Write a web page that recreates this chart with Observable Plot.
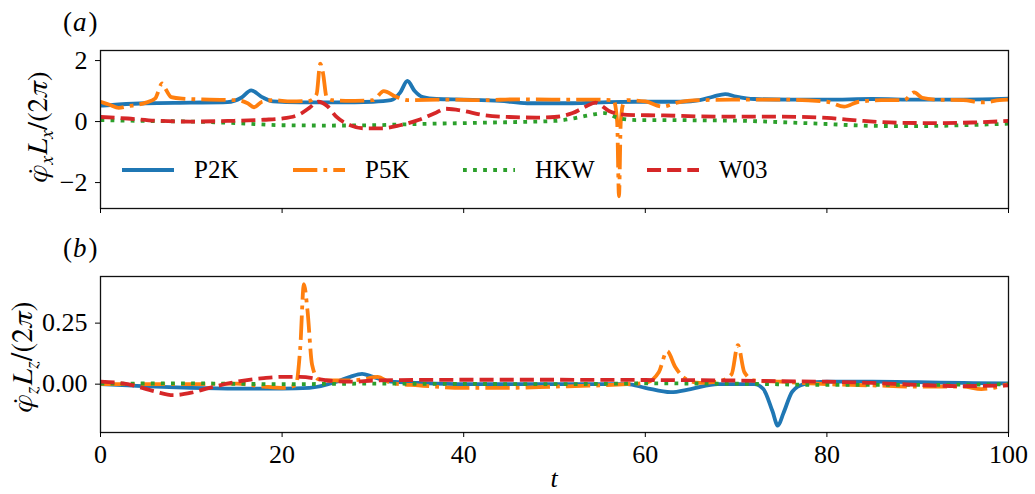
<!DOCTYPE html>
<html><head><meta charset="utf-8">
<script src="https://cdn.jsdelivr.net/npm/d3@7"></script>
<script src="https://cdn.jsdelivr.net/npm/@observablehq/plot@0.6"></script>
<style>
body{margin:0;background:#fff;}
#wrap{position:relative;width:1035px;height:494px;font-family:"Liberation Serif","Times New Roman",serif;}
#wrap svg{position:absolute;left:0;}
#wrap svg text, #wrap svg tspan{font-family:"Liberation Serif","Times New Roman",serif !important;}
#wrap svg text.ylab, #wrap svg text.ylab tspan{font-family:"FreeSerif","Liberation Serif",serif !important;}
</style></head><body><div id="wrap"></div>
<script>
// ---- categories / styles ----
const seriesNames = ["P2K", "P5K", "HKW", "W03"];
const seriesColors = ["#1f77b4", "#ff7f0e", "#2ca02c", "#d62728"];
const xTicks = [0, 20, 40, 60, 80, 100];
const yTicksA = [-2, 0, 2];
const yTicksB = [0, 0.25];

// ---- panel (a): phi_x L_x / (2pi) ----
const tA_P2K = [0,2,5,10,14,15.5,16.6,17.8,19,22,26,30,32,33,33.8,34.6,35.5,37,40,44,47,52,56,60,64,66,67.5,68.8,70,72,76,80,85,90,95,100];
const vA_P2K = [0.52,0.56,0.6,0.62,0.64,0.78,1.02,0.8,0.66,0.63,0.63,0.65,0.7,0.95,1.33,1.0,0.8,0.74,0.72,0.68,0.6,0.6,0.64,0.65,0.65,0.7,0.82,0.9,0.82,0.74,0.72,0.72,0.74,0.72,0.72,0.75];

const tA_P5K = [0,1,2,3,5,6,6.8,7.2,7.8,9,12,15,16.2,16.9,17.8,19,21,23,23.8,24.2,24.5,24.9,25.5,27,30,31.2,32.5,34,38,42,46,50,54,56.5,56.9,57.1,57.3,57.6,58,60,61.9,63.5,66,70,75,80,81.9,83.5,86,88.5,89.6,90.5,92,95,97.3,99,100];
const vA_P5K = [0.65,0.55,0.45,0.5,0.62,0.75,1.25,1.05,0.8,0.75,0.72,0.7,0.6,0.47,0.65,0.7,0.66,0.68,0.9,1.9,1.6,0.8,0.7,0.68,0.7,1.0,0.82,0.7,0.72,0.7,0.73,0.72,0.72,0.7,0.0,-2.45,0.0,0.6,0.7,0.66,0.49,0.62,0.7,0.72,0.72,0.65,0.49,0.65,0.7,0.7,0.96,0.78,0.72,0.7,0.63,0.7,0.72];

const tA_HKW = [0,5,10,15,20,25,30,35,40,45,50,52,54,55.5,57,59,62,66,70,75,80,85,90,95,100];
const vA_HKW = [0.05,0.02,0.0,-0.05,-0.12,-0.13,-0.12,-0.08,-0.05,-0.02,0.02,0.1,0.22,0.28,0.12,0.05,0.05,0.04,0.03,-0.02,-0.08,-0.14,-0.15,-0.12,-0.07];

const tA_W03 = [0,3,6,10,14,18,20,22,23,24,25,26,27.5,29,31,33,35,37,38,40,42,45,48,50,52,53.5,54.5,56,58,62,66,70,75,80,84,88,92,96,100];
const vA_W03 = [0.15,0.1,0.03,0.0,0.02,0.06,0.1,0.25,0.45,0.65,0.5,0.15,-0.12,-0.22,-0.22,-0.12,0.05,0.3,0.42,0.35,0.22,0.15,0.13,0.15,0.28,0.5,0.62,0.35,0.22,0.2,0.17,0.16,0.16,0.12,0.02,-0.04,-0.05,-0.03,0.02];

// ---- panel (b): phi_z L_z / (2pi) ----
const tB_P2K = [0,3,6,10,15,20,23,26,27.5,28.8,30,32,35,40,50,58,60,62.8,65,68,72,73,74,74.6,75.2,76.2,77.5,80,85,90,95,100];
const vB_P2K = [0,-0.005,-0.01,-0.015,-0.018,-0.018,-0.015,0.01,0.03,0.042,0.03,0.01,0.005,0.0,0.0,0.0,-0.015,-0.033,-0.02,0.0,0.0,-0.02,-0.11,-0.17,-0.12,-0.03,0.0,0.01,0.01,0.008,0.005,0.003];

const tB_P5K = [0,5,10,15,18,20,21.5,22.0,22.4,22.8,23.3,24,25,27,29,30.5,32,35,40,45,50,55,58,60,61.5,62.4,63.3,64.5,66,68,69.5,70.2,70.9,72,75,80,85,90,95,97,100];
const vB_P5K = [0,0,0,0.002,-0.01,-0.015,-0.005,0.15,0.41,0.3,0.08,0.02,0.015,0.015,0.02,0.03,0.005,-0.005,-0.015,-0.015,-0.01,-0.005,0.0,0.005,0.05,0.135,0.07,0.02,0.005,0.01,0.04,0.16,0.05,0.015,0.01,0.0,-0.005,-0.01,-0.01,-0.02,0.0];

const tB_HKW = [0,10,20,30,40,50,60,70,80,90,100];
const vB_HKW = [0.002,0.003,0.0,0.002,0.001,0.0,0.003,0.002,-0.003,-0.003,0.0];

const tB_W03 = [0,3,6,8,10,12,15,18,20,22,25,28,30,40,50,60,70,75,80,85,90,95,100];
const vB_W03 = [0.01,0.0,-0.03,-0.045,-0.035,-0.015,0.01,0.025,0.03,0.03,0.015,0.01,0.015,0.018,0.018,0.017,0.015,0.012,0.01,0.005,-0.003,-0.008,-0.005];

// ---- build ----
const lw = 3.8;
const dashes = [null, `${6.4*lw},${1.6*lw},${1*lw},${1.6*lw}`, `${1*lw},${1.65*lw}`, `${3.7*lw},${1.6*lw}`];
const rows = (t, v) => t.map((x, i) => ({t: x, v: v[i]}));
const panelA = [rows(tA_P2K, vA_P2K), rows(tA_P5K, vA_P5K), rows(tA_HKW, vA_HKW), rows(tA_W03, vA_W03)];
const panelB = [rows(tB_P2K, vB_P2K), rows(tB_P5K, vB_P5K), rows(tB_HKW, vB_HKW), rows(tB_W03, vB_W03)];

function lineMarks(panel) {
  return panel.map((data, i) => Plot.line(data, {
    x: "t", y: "v", stroke: seriesColors[i], strokeWidth: lw,
    strokeDasharray: dashes[i] || undefined, strokeLinecap: "butt", strokeLinejoin: "round",
    curve: "monotone-x"
  }));
}
const FONT = '"Liberation Serif","Times New Roman",serif';
const fontCSS = `font-family:${FONT};font-size:26px;color:#000;background:transparent;overflow:visible;`;
const minusFmt = d => d < 0 ? "\u2212" + Math.abs(d) : String(d);

const pa = Plot.plot({
  width: 1035, height: 215, marginLeft: 100, marginRight: 27, marginTop: 50, marginBottom: 7,
  style: fontCSS,
  x: {domain: [0, 100]}, y: {domain: [-2.85, 2.33]},
  marks: [
    ...lineMarks(panelA),
    Plot.frame({stroke: "#111", strokeWidth: 1.3}),
    Plot.axisY({ticks: yTicksA, tickSize: 5, tickPadding: 8, tickFormat: minusFmt, label: null, fontSize: 26}),
    Plot.axisX({ticks: xTicks, tickSize: 5, tickFormat: () => "", label: null})
  ]
});
pa.style.top = "0px";

const pb = Plot.plot({
  width: 1035, height: 274, marginLeft: 100, marginRight: 27, marginTop: 56, marginBottom: 62,
  style: fontCSS,
  x: {domain: [0, 100]}, y: {domain: [-0.198, 0.441]},
  marks: [
    ...lineMarks(panelB),
    Plot.frame({stroke: "#111", strokeWidth: 1.3}),
    Plot.axisY({ticks: yTicksB, tickSize: 5, tickPadding: 8, tickFormat: d3.format(".2f"), label: null, fontSize: 26}),
    Plot.axisX({ticks: xTicks, tickSize: 5, tickPadding: 7, label: null, fontSize: 26})
  ]
});
pb.style.top = "220px";

const wrap = document.getElementById("wrap");
wrap.appendChild(pa);
wrap.appendChild(pb);

// ---- overlay: panel labels, y labels, x label, legend ----
const ov = d3.select(wrap).append("svg").attr("width", 1035).attr("height", 494)
  .style("top", "0px").style("pointer-events", "none")
  .style("font-family", FONT);

function panelLabel(letter, y) {
  const t = ov.append("text").attr("x", 63).attr("y", y).attr("font-size", 27);
  t.append("tspan").text("(");
  t.append("tspan").attr("font-style", "italic").attr("dx", 1).text(letter);
  t.append("tspan").attr("dx", 2).text(")");
}
panelLabel("a", 31);
panelLabel("b", 257);

function yLabel(sub, bx, cy, targetLen) {
  let fs = 28;
  const g = ov.append("g").attr("transform", `translate(${bx},${cy}) rotate(-90)`);
  const t = g.append("text").attr("class", "ylab").attr("text-anchor", "middle");
  const build = () => {
    t.selectAll("*").remove();
    t.attr("font-size", fs);
    const s = fs * 0.68, d = fs * 0.2;
    t.append("tspan").attr("font-style", "italic").text("\u03C6\u0307");
    t.append("tspan").attr("font-style", "italic").attr("font-size", s).attr("dy", d).text(sub);
    t.append("tspan").attr("font-style", "italic").attr("dy", -d).attr("dx", 1).text("L");
    t.append("tspan").attr("font-style", "italic").attr("font-size", s).attr("dy", d).text(sub);
    t.append("tspan").attr("dy", -d).text("/");
    t.append("tspan").text("(2");
    t.append("tspan").attr("font-style", "italic").text("\u03C0");
    t.append("tspan").text(")");
  };
  build();
  const w = t.node().getBBox().width;
  if (w > 0) { fs = fs * targetLen / w; build(); }
}
yLabel("x", 47, 127, 111);
yLabel("z", 32, 357, 111);

ov.append("text").attr("x", 554).attr("y", 487).attr("text-anchor", "middle")
  .attr("font-size", 26).attr("font-style", "italic").text("t");

const legX = [122, 293, 463, 647];
seriesNames.forEach((n, i) => {
  ov.append("line").attr("x1", legX[i]).attr("x2", legX[i] + 52).attr("y1", 170).attr("y2", 170)
    .attr("stroke", seriesColors[i]).attr("stroke-width", lw)
    .attr("stroke-dasharray", dashes[i] || null);
  ov.append("text").attr("x", legX[i] + 72).attr("y", 178).attr("font-size", 25).text(n);
});
</script>
</body></html>
